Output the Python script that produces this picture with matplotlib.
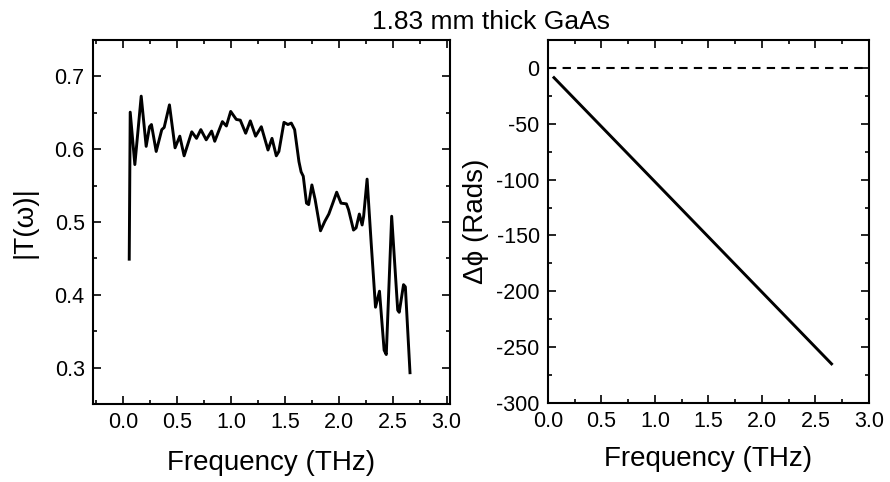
import matplotlib
matplotlib.use("Agg")
import matplotlib.pyplot as plt
from matplotlib.ticker import MultipleLocator, FormatStrFormatter

plt.rcParams['font.family'] = ['Liberation Sans', 'DejaVu Sans']

# |T(w)|
freq_t = [0.056, 0.065, 0.108, 0.167, 0.213, 0.244, 0.262, 0.306, 0.358, 0.38,
          0.429, 0.481, 0.525, 0.565, 0.636, 0.68, 0.72, 0.77, 0.82, 0.849,
          0.92, 0.957, 0.997, 1.049, 1.086, 1.136, 1.179, 1.228, 1.281, 1.343,
          1.38, 1.42, 1.444, 1.491, 1.528, 1.559, 1.59, 1.63, 1.65, 1.67,
          1.70, 1.72, 1.75, 1.78, 1.83, 1.87, 1.907, 1.944, 1.98, 2.02,
          2.07, 2.09, 2.136, 2.16, 2.19, 2.216, 2.23, 2.262, 2.30, 2.34,
          2.377, 2.42, 2.44, 2.49, 2.546, 2.56, 2.60, 2.617, 2.66]
trans = [0.449, 0.651, 0.579, 0.673, 0.604, 0.631, 0.634, 0.597, 0.627, 0.630,
         0.661, 0.602, 0.618, 0.591, 0.624, 0.615, 0.627, 0.613, 0.625, 0.611,
         0.638, 0.632, 0.652, 0.641, 0.640, 0.622, 0.639, 0.618, 0.631, 0.599,
         0.615, 0.591, 0.597, 0.637, 0.634, 0.636, 0.627, 0.583, 0.569, 0.563,
         0.526, 0.524, 0.551, 0.531, 0.488, 0.501, 0.511, 0.526, 0.541, 0.526,
         0.525, 0.517, 0.489, 0.492, 0.511, 0.496, 0.508, 0.559, 0.471, 0.383,
         0.405, 0.324, 0.318, 0.508, 0.379, 0.376, 0.414, 0.411, 0.293]

# phase difference (right panel), a straight line
freq_p = [0.056, 2.65]
phase = [-8.7, -265.0]
ref_phase = [0, 0]
ref_freq = [0.0, 3.0]

fig = plt.figure(figsize=(8.9, 4.82), dpi=100)
ax1 = fig.add_axes([0.1045, 0.1618, 0.401, 0.755])
ax2 = fig.add_axes([0.6157, 0.164, 0.3607, 0.753])

# left: transmission magnitude
ax1.plot(freq_t, trans, color="black", lw=2.1)
ax1.set_xlim(-0.28, 3.03)
ax1.set_ylim(0.25, 0.75)
ax1.xaxis.set_major_locator(MultipleLocator(0.5))
ax1.xaxis.set_minor_locator(MultipleLocator(0.25))
ax1.yaxis.set_major_locator(MultipleLocator(0.1))
ax1.yaxis.set_minor_locator(MultipleLocator(0.05))
ax1.set_xlabel("Frequency (THz)", fontsize=20, labelpad=12)
ax1.set_ylabel("|T(ω)|", fontsize=20, labelpad=12)

# right: phase with zero reference
ax2.plot(ref_freq, ref_phase, color="black", lw=1.5, ls=(0, (4, 3)))
ax2.plot(freq_p, phase, color="black", lw=2.1)
ax2.set_xlim(0, 3.0)
ax2.set_ylim(-300, 25)
ax2.xaxis.set_major_locator(MultipleLocator(0.5))
ax2.xaxis.set_minor_locator(MultipleLocator(0.25))
ax2.yaxis.set_major_locator(MultipleLocator(50))
ax2.yaxis.set_minor_locator(MultipleLocator(25))
ax2.set_xlabel("Frequency (THz)", fontsize=20, labelpad=10)
ax2.set_ylabel("Δ\u03d5 (Rads)", fontsize=20, labelpad=5)

for ax in (ax1, ax2):
    ax.tick_params(which="both", direction="in", top=True, right=True,
                   labelsize=15.5, width=1.2)
    ax.tick_params(which="major", length=6, pad=6)
    ax.tick_params(which="minor", length=3)
    for s in ax.spines.values():
        s.set_linewidth(1.5)
    ax.xaxis.set_major_formatter(FormatStrFormatter("%.1f"))
ax1.yaxis.set_major_formatter(FormatStrFormatter("%.1f"))
ax2.yaxis.set_major_formatter(FormatStrFormatter("%d"))

fig.text(0.552, 0.955, "1.83 mm thick GaAs", fontsize=19, ha="center", va="center")

fig.savefig("out.png", dpi=100)
